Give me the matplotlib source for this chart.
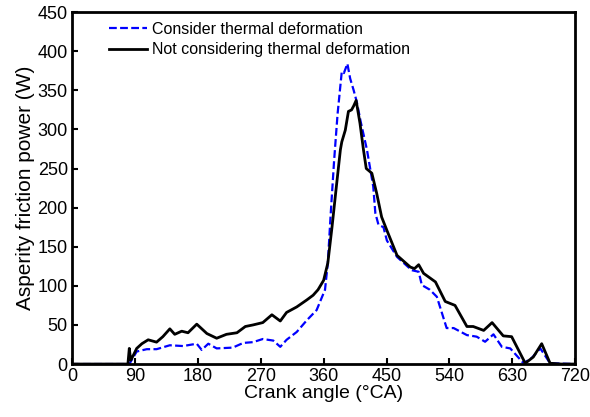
import matplotlib
matplotlib.use('Agg')
import matplotlib.pyplot as plt

plt.rcParams['font.family'] = ['Liberation Sans', 'DejaVu Sans']

# 不考虑热变形 (black)
ang_n = [0, 80, 82, 84, 86, 92.6, 100, 109, 121, 130, 140, 147, 157, 166, 178.5, 193, 207,
         221, 236, 248, 259, 273, 286, 298, 307, 321.5, 336, 345, 352, 360, 366, 372, 378,
         384, 386, 391, 395.5, 400, 403, 406.5, 412, 417, 421, 429, 436, 443, 450.5, 465,
         484, 490, 496, 503, 520, 534, 548, 565, 574, 589, 601, 617, 629, 648.5, 660, 672,
         684, 700, 720]
pow_n = [0, 0, 20, 5, 8, 20, 26, 31, 28, 35, 45, 38, 42, 40, 51, 39, 33,
         38, 40, 48, 50, 53, 63, 55, 66, 73, 82, 88, 95, 107, 129, 175, 225,
         274, 284, 299, 323, 325, 330, 337, 308, 274, 250, 244, 218, 188, 171, 139,
         124, 122, 127, 116, 105, 80, 75, 48, 48, 43, 53, 36, 35, 1, 9, 26,
         1, 0, 0]

# 考虑热变形 (blue)
ang_c = [0, 82, 86, 92.6, 107, 121, 140, 159, 178.5, 185.6, 195, 207, 230, 245, 259, 273,
         288, 298, 307, 321.5, 336, 350, 362, 366, 370, 375, 380, 386, 389, 394, 398, 403,
         407.5, 413, 422, 431, 434, 438.5, 445.6, 450.5, 465, 486, 496, 500.5, 512, 522,
         536, 546, 565, 579, 591, 603, 615, 627, 646, 658, 670, 684, 720]
pow_c = [0, 0, 6, 16, 19, 19, 24, 23, 26, 18, 26, 20, 21, 27, 28, 32,
         30, 22, 31, 41, 56, 69, 95, 129, 190, 260, 320, 374, 372, 384, 365, 350,
         335, 310, 274, 227, 193, 178, 175, 158, 137, 120, 118, 101, 95, 86,
         46, 46, 37, 35, 28.5, 38, 22, 20, 1, 8, 20, 1, 0]

xticks = [0, 90, 180, 270, 360, 450, 540, 630, 720]
yticks = [0, 50, 100, 150, 200, 250, 300, 350, 400, 450]

fig = plt.figure(figsize=(5.9, 4.17), dpi=100)
ax = fig.add_axes([0.122, 0.127, 0.853, 0.844])

ax.plot(ang_c, pow_c, color='#0000ff', lw=1.6, ls=(0, (3.5, 1.5)), label='Consider thermal deformation')
ax.plot(ang_n, pow_n, color='black', lw=2.0, label='Not considering thermal deformation')

ax.set_xlim(0, 720)
ax.set_ylim(0, 450)
ax.set_xticks(xticks)
ax.set_yticks(yticks)
ax.tick_params(direction='in', labelsize=13, width=1.5, length=4, top=False, right=False, pad=3)
for s in ax.spines.values():
    s.set_linewidth(2)

ax.set_xlabel('Crank angle (°CA)', fontsize=14, labelpad=0)
ax.set_ylabel('Asperity friction power (W)', fontsize=15, labelpad=2)

ax.legend(loc='upper left', bbox_to_anchor=(0.058, 0.995), frameon=False, fontsize=11.5,
          handlelength=2.4, handletextpad=0.3, borderpad=0, labelspacing=0.35)

fig.savefig('out.png', dpi=100)
